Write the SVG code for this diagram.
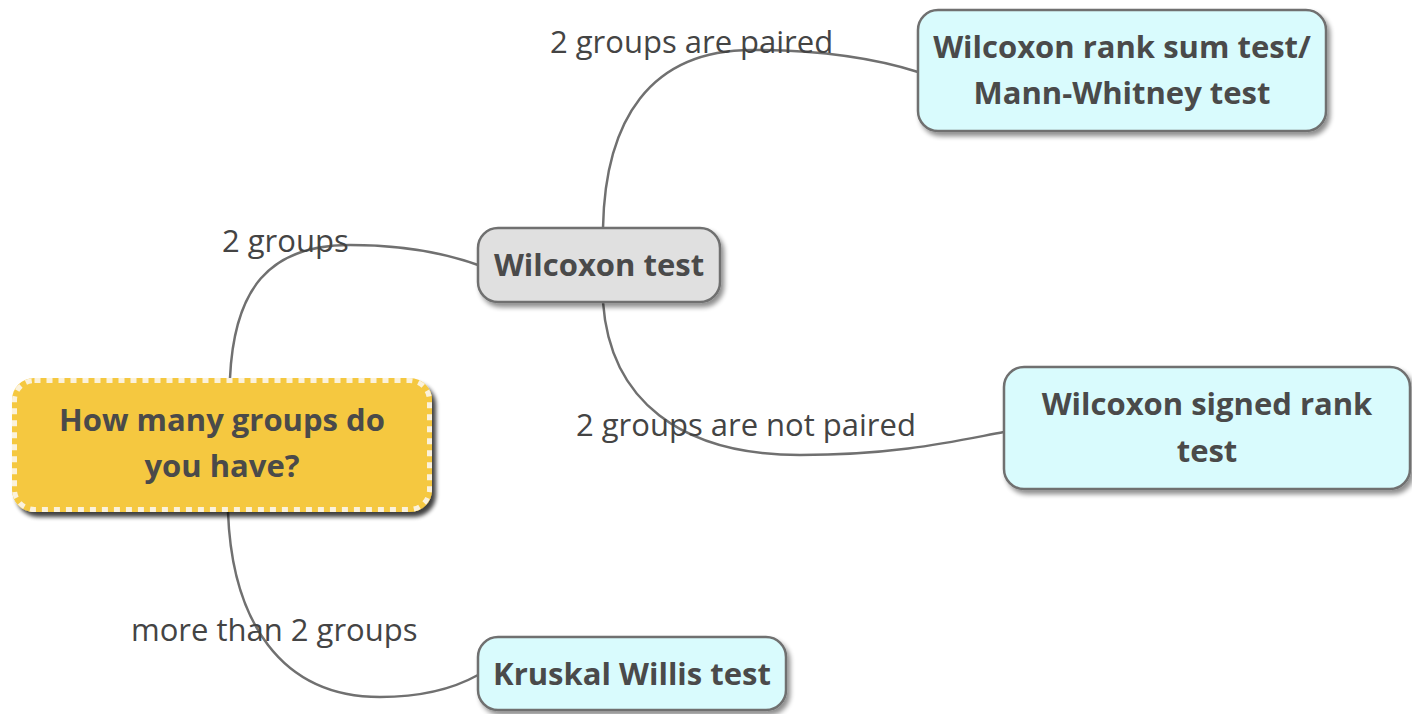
<svg xmlns="http://www.w3.org/2000/svg" width="1412" height="714" viewBox="0 0 1412 714">
<defs>
<filter id="sh" x="-10%" y="-20%" width="130%" height="150%">
<feGaussianBlur in="SourceAlpha" stdDeviation="2.5"/>
<feOffset dx="3" dy="4" result="b"/>
<feComponentTransfer><feFuncA type="linear" slope="0.45"/></feComponentTransfer>
<feMerge><feMergeNode/><feMergeNode in="SourceGraphic"/></feMerge>
</filter>
<filter id="sh2" x="-10%" y="-20%" width="130%" height="150%">
<feGaussianBlur in="SourceAlpha" stdDeviation="2"/>
<feOffset dx="4" dy="5" result="b"/>
<feComponentTransfer><feFuncA type="linear" slope="0.75"/></feComponentTransfer>
<feMerge><feMergeNode/><feMergeNode in="SourceGraphic"/></feMerge>
</filter>
<style>
.node{stroke:#6f7070;stroke-width:2.5;filter:url(#sh)}
.leaf{fill:#d9fbfd}
.nt{font-family:"Open Sans",sans-serif;font-weight:bold;font-size:31px;fill:#4a4a4a;text-anchor:middle}
.lb{font-family:"Open Sans",sans-serif;font-size:31px;fill:#444444}
.con{fill:none;stroke:#707070;stroke-width:2.5}
</style>
</defs>
<rect width="1412" height="714" fill="#ffffff"/>
<g id="connectors">
<path class="con" d="M230,378 C234,290 268,245 350,245 C410,245 450,255 478,265"/>
<path class="con" d="M228,512 C232,620 280,697 380,697 C430,697 460,685 478,675"/>
<path class="con" d="M603,228 C605,120 650,50 752,50 C830,50 880,60 918,72"/>
<path class="con" d="M603,302 C610,400 680,455 800,455 C900,455 960,440 1004,432"/>
</g>
<g id="labels">
<text class="lb" x="222" y="252">2 groups</text>
<text class="lb" x="550" y="53">2 groups are paired</text>
<text class="lb" x="576" y="436">2 groups are not paired</text>
<text class="lb" x="131" y="641">more than 2 groups</text>
</g>
<g id="root">
<rect x="12" y="378" width="420" height="134" rx="22" fill="#f5c840" filter="url(#sh2)"/>
<rect x="14.5" y="380.5" width="415" height="129" rx="20" fill="none" stroke="#fbf2dc" stroke-width="5" stroke-dasharray="6,6"/>
<text class="nt" x="222" y="431">How many groups do</text>
<text class="nt" x="222" y="477">you have?</text>
</g>
<g id="wilcoxon">
<rect class="node" x="478" y="228" width="242" height="74" rx="20" fill="#e0e0e0"/>
<text class="nt" x="599" y="276">Wilcoxon test</text>
</g>
<g id="ranksum">
<rect class="node leaf" x="918" y="10" width="408" height="121" rx="20"/>
<text class="nt" x="1122" y="58">Wilcoxon rank sum test/</text>
<text class="nt" x="1122" y="104">Mann-Whitney test</text>
</g>
<g id="signed">
<rect class="node leaf" x="1004" y="367" width="406" height="122" rx="20"/>
<text class="nt" x="1207" y="415">Wilcoxon signed rank</text>
<text class="nt" x="1207" y="462">test</text>
</g>
<g id="kruskal">
<rect class="node leaf" x="478" y="637" width="308" height="73" rx="20"/>
<text class="nt" x="632" y="685">Kruskal Willis test</text>
</g>
</svg>
